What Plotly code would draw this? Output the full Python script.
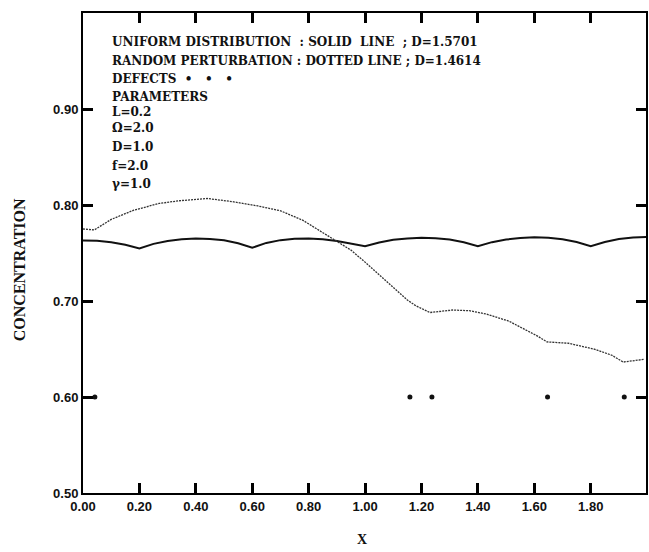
import plotly.graph_objects as go

# ---- data ----
x_uniform = [0.00, 0.05, 0.10, 0.15, 0.20, 0.25, 0.30, 0.35, 0.40, 0.45, 0.50, 0.55,
             0.60, 0.65, 0.70, 0.75, 0.80, 0.85, 0.90, 0.95, 1.00, 1.05, 1.10, 1.15,
             1.20, 1.25, 1.30, 1.35, 1.40, 1.45, 1.50, 1.55, 1.60, 1.65, 1.70, 1.75,
             1.80, 1.85, 1.90, 1.95, 2.00]
y_uniform = [0.7630, 0.7628, 0.7612, 0.7585, 0.7548, 0.7595, 0.7625, 0.7642, 0.7650,
             0.7646, 0.7632, 0.7602, 0.7555, 0.7605, 0.7634, 0.7648, 0.7652, 0.7643,
             0.7625, 0.7598, 0.7570, 0.7610, 0.7637, 0.7652, 0.7658, 0.7654, 0.7640,
             0.7612, 0.7570, 0.7613, 0.7640, 0.7656, 0.7663, 0.7660, 0.7644, 0.7615,
             0.7572, 0.7615, 0.7646, 0.7662, 0.7667]

x_random = [0.00, 0.04, 0.10, 0.18, 0.27, 0.34, 0.44, 0.53, 0.62, 0.70, 0.78,
            0.84, 0.90, 0.95, 1.00, 1.06, 1.12, 1.15, 1.18, 1.23, 1.31, 1.37, 1.43,
            1.47, 1.51, 1.61, 1.645, 1.72, 1.815, 1.875, 1.915, 1.99]
y_random = [0.7750, 0.7740, 0.7850, 0.7946, 0.8016, 0.8044, 0.8068, 0.8035, 0.7990,
            0.7940, 0.7840, 0.7730, 0.7620, 0.7530, 0.7405, 0.7248, 0.7090,
            0.7010, 0.6950, 0.6880, 0.6906, 0.6899, 0.6864, 0.6830, 0.6790, 0.6637,
            0.6574, 0.6560, 0.6497, 0.6435, 0.6364, 0.6393]

x_defects = [0.042, 1.159, 1.237, 1.647, 1.919]
y_defects = [0.60, 0.60, 0.60, 0.60, 0.60]

x_ticks = [0.0, 0.2, 0.4, 0.6, 0.8, 1.0, 1.2, 1.4, 1.6, 1.8]
x_ticklabels = ["0.00", "0.20", "0.40", "0.60", "0.80", "1.00", "1.20", "1.40", "1.60", "1.80"]
y_ticks = [0.5, 0.6, 0.7, 0.8, 0.9]
y_ticklabels = ["0.50", "0.60", "0.70", "0.80", "0.90"]

legend_lines = [
    "UNIFORM DISTRIBUTION  : SOLID  LINE  ; D=1.5701",
    "RANDOM PERTURBATION : DOTTED LINE ; D=1.4614",
    "DEFECTS  \u2022   \u2022   \u2022",
    "PARAMETERS",
]
param_lines = ["L=0.2", "\u03a9=2.0", "D=1.0", "f=2.0", "\u03b3=1.0"]

# ---- figure ----
W, H = 649, 552
L_M, R_M, T_M, B_M = 83, 1, 13, 59
plot_w = W - L_M - R_M
plot_h = H - T_M - B_M

fig = go.Figure()
fig.add_trace(go.Scatter(x=x_uniform, y=y_uniform, mode="lines",
                         line=dict(color="#111111", width=2), hoverinfo="skip"))
fig.add_trace(go.Scatter(x=x_random, y=y_random, mode="lines",
                         line=dict(color="#333333", width=1.3, dash="2px,1px"),
                         hoverinfo="skip"))
fig.add_trace(go.Scatter(x=x_defects, y=y_defects, mode="markers",
                         marker=dict(color="#111111", size=5), hoverinfo="skip"))

tickfont = dict(family="Liberation Sans, Arial, sans-serif", size=13, color="#111111")
axis_common = dict(showgrid=False, zeroline=False, showline=True, linecolor="black",
                   linewidth=2, mirror="allticks", ticks="inside", ticklen=10,
                   tickwidth=2.5, tickcolor="#000000", tickfont=tickfont)

fig.update_xaxes(range=[0, 1.996], tickvals=x_ticks,
                 ticktext=["<b>%s</b>" % t for t in x_ticklabels], **axis_common)
fig.update_yaxes(range=[0.5, 1.0], tickvals=y_ticks,
                 ticktext=["<b>%s</b>" % t for t in y_ticklabels], **axis_common)

annots = []
serif = "DejaVu Serif, serif"
ys = [42, 61, 79, 97]
for t, yp in zip(legend_lines, ys):
    annots.append(dict(text="<b>%s</b>" % t, x=(110 - L_M) / plot_w, y=(H - B_M - yp) / plot_h,
                       xref="paper", yref="paper", xanchor="left", yanchor="middle",
                       showarrow=False, font=dict(family=serif, size=12, color="#111111")))
pys = [112, 128, 147, 166, 184]
for t, yp in zip(param_lines, pys):
    annots.append(dict(text="<b>%s</b>" % t, x=(110 - L_M) / plot_w, y=(H - B_M - yp) / plot_h,
                       xref="paper", yref="paper", xanchor="left", yanchor="middle",
                       showarrow=False, font=dict(family=serif, size=12, color="#111111")))
annots.append(dict(text="<b>CONCENTRATION</b>", x=(19 - L_M) / plot_w,
                   y=(H - B_M - 270) / plot_h, xref="paper", yref="paper",
                   xanchor="center", yanchor="middle", textangle=-90, showarrow=False,
                   font=dict(family="Liberation Serif, serif", size=16, color="#111111")))
annots.append(dict(text="<b>X</b>", x=(363 - L_M) / plot_w,
                   y=(H - B_M - 539) / plot_h, xref="paper", yref="paper",
                   xanchor="center", yanchor="middle", showarrow=False,
                   font=dict(family="Liberation Serif, serif", size=14, color="#111111")))

fig.update_layout(width=W, height=H, margin=dict(l=L_M, r=R_M, t=T_M, b=B_M),
                  paper_bgcolor="white", plot_bgcolor="white", showlegend=False,
                  annotations=annots)

fig.write_html("out.html")
